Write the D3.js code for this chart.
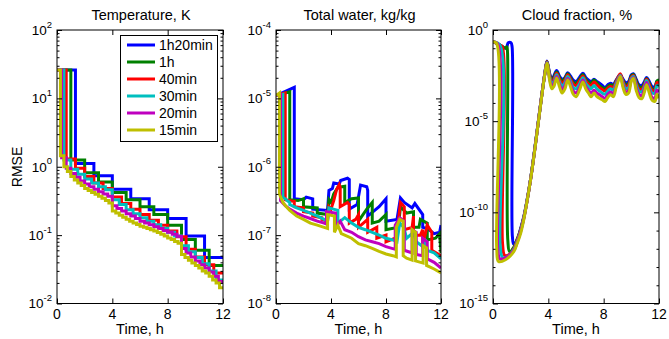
<!DOCTYPE html>
<html>
<head>
<meta charset="utf-8">
<script src="https://cdn.jsdelivr.net/npm/d3@7"></script>
<style>
  body { margin: 0; background: #fff; }
  svg { font-family: "Liberation Sans", Arial, sans-serif; }
</style>
</head>
<body>
<svg id="chart" width="669" height="339"></svg>
<script>
// series, legend
const seriesLabels = ['1h20min', '1h', '40min', '30min', '20min', '15min'];
const windowMinutes = [80, 60, 40, 30, 20, 15];
const seriesColors = ['#0000ff', '#008000', '#ff0000', '#00bfbf', '#bf00bf', '#bfbf00'];

const timeTicks = [0, 4, 8, 12];
const tempTicks = [1e-2, 1e-1, 1e0, 1e1, 1e2];
const waterTicks = [1e-8, 1e-7, 1e-6, 1e-5, 1e-4];
const cloudTicks = [1e-15, 1e-10, 1e-5, 1e0];

// Temperature RMSE: one level per assimilation window
const tempBlue = [26, 1.12, 0.74, 0.47, 0.34, 0.235, 0.175, 0.097, 0.047];
const tempGreen = [26, 1.25, 0.82, 0.6, 0.42, 0.33, 0.26, 0.2, 0.14, 0.086, 0.06, 0.036];
const tempRed = [26, 1.3, 0.95, 0.72, 0.58, 0.48, 0.36, 0.29, 0.24, 0.2, 0.165, 0.14, 0.115, 0.095, 0.062, 0.048, 0.037, 0.028];
const tempCyan = [26, 1.25, 0.92, 0.78, 0.66, 0.58, 0.51, 0.46, 0.33, 0.28, 0.235, 0.205, 0.18, 0.16, 0.142, 0.126, 0.11, 0.097, 0.07, 0.057, 0.047, 0.038, 0.03, 0.022];
const tempMagenta = [26, 1.35, 0.95, 0.8, 0.7, 0.62, 0.56, 0.51, 0.47, 0.43, 0.4, 0.37, 0.27, 0.245, 0.225, 0.205, 0.19, 0.175,
  0.16, 0.15, 0.142, 0.133, 0.125, 0.117, 0.11, 0.103, 0.096, 0.064, 0.055, 0.048, 0.042, 0.037, 0.033, 0.029, 0.025, 0.021];
const tempYellow = [26, 1.45, 1.0, 0.85, 0.72, 0.64, 0.58, 0.53, 0.48, 0.45, 0.42, 0.395, 0.37, 0.345, 0.32, 0.295,
  0.225, 0.21, 0.195, 0.182, 0.17, 0.16, 0.151, 0.143, 0.135, 0.13, 0.125, 0.12, 0.115, 0.109, 0.103, 0.097,
  0.091, 0.086, 0.081, 0.076, 0.052, 0.047, 0.043, 0.039, 0.036, 0.033, 0.03, 0.028, 0.025, 0.022, 0.02, 0.017];

// Total water RMSE: [time h, value]
const waterBlue = [[0, 1.1e-5], [1.33, 1.45e-5], [1.33, 3.4e-7], [2.0, 3.3e-7], [2.2, 3.6e-7], [2.67, 3.4e-7], [2.67, 2.4e-7],
  [3.75, 2.3e-7], [3.85, 4.5e-7], [4.1, 4.8e-7], [4.2, 5.8e-7], [4.6, 5.6e-7], [4.7, 6.3e-7], [5.2, 6.8e-7], [5.33, 6.5e-7],
  [5.33, 2.4e-7], [5.9, 2.8e-7], [6.15, 5.4e-7], [6.6, 5.1e-7], [6.67, 4.5e-7], [6.67, 1.9e-7], [7.5, 2.6e-7], [8.0, 3.4e-7],
  [8.0, 1.6e-7], [8.8, 1.7e-7], [9.05, 3.5e-7], [9.33, 3.0e-7], [9.9, 2.5e-7], [10.1, 2.9e-7], [10.67, 2.0e-7],
  [10.67, 1.3e-7], [11.0, 1.25e-7], [11.5, 1.05e-7], [11.9, 1.1e-7], [12, 1.4e-7]];
const waterGreen = [[0, 1.1e-5], [1, 1.25e-5], [1, 3.3e-7], [1.6, 3.2e-7], [2, 3.4e-7], [2, 2.6e-7], [3, 2.5e-7], [3, 2.1e-7],
  [3.75, 2.0e-7], [3.85, 3.3e-7], [4, 3.0e-7], [4.2, 4.0e-7], [4.5, 5.0e-7], [5, 5.2e-7], [5, 3.0e-7], [5.5, 3.4e-7],
  [6, 3.5e-7], [6, 1.6e-7], [6.6, 2.4e-7], [7, 3.0e-7], [7, 1.5e-7], [7.5, 1.6e-7], [8, 2.0e-7], [8, 1.2e-7], [8.9, 1.3e-7],
  [9.05, 2.6e-7], [9.5, 2.1e-7], [10, 2.2e-7], [10, 1.3e-7], [10.4, 1.3e-7], [10.5, 1.7e-7], [11, 1.5e-7], [11, 8.5e-8],
  [11.6, 9e-8], [11.9, 1.05e-7], [12, 5.5e-8]];
const waterRed = [[0, 1.1e-5], [0.67, 1.2e-5], [0.67, 3.3e-7], [1.33, 3.1e-7], [1.33, 2.6e-7], [2, 2.5e-7], [2, 2.2e-7],
  [2.67, 2.1e-7], [2.67, 1.9e-7], [3.33, 1.8e-7], [3.33, 1.7e-7], [3.75, 1.6e-7], [3.85, 2.6e-7], [4, 2.4e-7], [4.2, 3.2e-7],
  [4.4, 4.6e-7], [4.6, 5.5e-7], [4.67, 5.0e-7], [4.67, 2.6e-7], [5.2, 3.0e-7], [5.33, 2.8e-7], [5.33, 1.5e-7], [5.8, 1.7e-7],
  [6, 2.0e-7], [6, 1.3e-7], [6.67, 1.7e-7], [6.67, 1.1e-7], [7.33, 1.3e-7], [7.33, 9e-8], [8, 1.0e-7], [8, 8e-8],
  [8.67, 9e-8], [8.9, 1.6e-7], [9.05, 3.0e-7], [9.33, 2.6e-7], [9.33, 1.2e-7], [9.9, 1.3e-7], [10, 1.9e-7], [10, 1.0e-7],
  [10.5, 1.0e-7], [10.67, 1.2e-7], [10.67, 7e-8], [11, 1.4e-7], [11.33, 1.1e-7], [11.33, 6e-8], [12, 5e-8]];
const waterCyan = [[0, 1.1e-5], [0.5, 1.15e-5], [0.5, 3.6e-7], [1, 3.0e-7], [1, 2.8e-7], [1.5, 2.5e-7], [2, 2.3e-7],
  [2.5, 2.1e-7], [3, 1.9e-7], [3.5, 1.7e-7], [3.75, 1.6e-7], [3.85, 2.5e-7], [4.5, 2.3e-7], [4.5, 1.5e-7], [5, 1.8e-7],
  [5.5, 1.5e-7], [6, 1.3e-7], [6.5, 1.2e-7], [7, 1.1e-7], [7.5, 1.0e-7], [8, 9e-8], [8.5, 8.5e-8], [8.8, 8e-8],
  [9.0, 1.5e-7], [9.3, 1.3e-7], [9.5, 9e-8], [10, 1.1e-7], [10.2, 8e-8], [10.6, 7e-8], [10.9, 8e-8], [11, 6e-8],
  [11.5, 5.5e-8], [12, 4.5e-8]];
const waterMagenta = [[0, 1.1e-5], [0.33, 1.15e-5], [0.33, 3.2e-7], [0.67, 2.7e-7], [1, 2.4e-7], [1.5, 2.1e-7], [2, 1.9e-7],
  [2.5, 1.75e-7], [3, 1.6e-7], [3.5, 1.5e-7], [3.67, 1.45e-7], [3.67, 2.2e-7], [4.33, 2.1e-7], [4.33, 1.3e-7], [4.67, 1.6e-7],
  [5, 1.2e-7], [5.5, 1.1e-7], [6, 9.5e-8], [6.5, 8.5e-8], [7, 8e-8], [7.5, 7.5e-8], [8, 6.8e-8], [8.67, 6.2e-8],
  [8.67, 1.4e-7], [9.0, 1.8e-7], [9.33, 1.6e-7], [9.33, 6e-8], [9.9, 5.5e-8], [9.9, 1.2e-7], [10.2, 1.1e-7], [10.2, 5.2e-8],
  [10.67, 5e-8], [10.67, 9e-8], [11, 8e-8], [11, 4.5e-8], [11.5, 4e-8], [12, 3.3e-8]];
const waterYellow = [[0, 1.1e-5], [0.25, 1.2e-5], [0.25, 4.0e-7], [0.5, 3.0e-7], [0.75, 2.6e-7], [1, 2.3e-7], [1.5, 1.9e-7],
  [2, 1.7e-7], [2.5, 1.5e-7], [3, 1.4e-7], [3.5, 1.3e-7], [3.75, 1.25e-7], [3.75, 2.0e-7], [4.25, 1.9e-7], [4.25, 1.1e-7],
  [4.5, 1.4e-7], [4.75, 1.05e-7], [5, 1.0e-7], [5.5, 9e-8], [6, 7.5e-8], [6.5, 7e-8], [7, 6.4e-8], [7.5, 5.8e-8],
  [8, 5.3e-8], [8.5, 5e-8], [8.75, 4.8e-8], [8.75, 1.3e-7], [9, 1.7e-7], [9.25, 1.6e-7], [9.25, 5e-8], [9.5, 4.6e-8],
  [9.9, 4.3e-8], [9.9, 1.2e-7], [10.15, 1.1e-7], [10.15, 4.2e-8], [10.7, 3.9e-8], [10.7, 7e-8], [10.95, 6.5e-8],
  [10.95, 3.6e-8], [11.5, 3.2e-8], [12, 2.8e-8]];

// Cloud fraction RMSE, first 4 hours: [time h, value]
const cloudBlue = [[0, 0.23], [0.5, 0.15], [0.95, 0.1], [1.1, 0.2], [1.3, 0.2], [1.38, 0.12], [1.4, 5e-12], [1.5, 1.8e-12],
  [1.75, 3e-12], [2.0, 1.3e-11], [2.25, 7e-11], [2.5, 7e-10], [2.75, 1e-8], [3.0, 2.5e-7], [3.25, 7e-6], [3.5, 2e-4],
  [3.75, 4.5e-3], [3.9, 0.02]];
const cloudGreen = [[0, 0.23], [0.5, 0.15], [0.9, 0.1], [1.0, 0.12], [1.05, 0.06], [1.07, 3e-12], [1.2, 7e-13], [1.5, 1.2e-12],
  [1.75, 3.5e-12], [2.0, 1.2e-11], [2.25, 6.5e-11], [2.5, 6.5e-10], [2.75, 1e-8], [3.0, 2.3e-7], [3.25, 6.6e-6], [3.5, 1.9e-4],
  [3.75, 4.3e-3], [3.9, 0.019]];
const cloudRed = [[0, 0.23], [0.5, 0.15], [0.67, 0.12], [0.69, 2e-12], [0.85, 4.3e-13], [1.2, 5e-13], [1.5, 1e-12],
  [1.75, 3e-12], [2.0, 1.1e-11], [2.25, 6e-11], [2.5, 6.3e-10], [2.75, 9.5e-9], [3.0, 2.2e-7], [3.25, 6.4e-6], [3.5, 1.9e-4],
  [3.75, 4.2e-3], [3.9, 0.018]];
const cloudCyan = [[0, 0.23], [0.5, 0.15], [0.52, 1.5e-12], [0.7, 3.3e-13], [1.1, 4e-13], [1.5, 9e-13], [1.75, 2.6e-12],
  [2.0, 1e-11], [2.25, 5.8e-11], [2.5, 6.2e-10], [2.75, 9.3e-9], [3.0, 2.2e-7], [3.25, 6.3e-6], [3.5, 1.8e-4],
  [3.75, 4.1e-3], [3.9, 0.017]];
const cloudMagenta = [[0, 0.23], [0.33, 0.18], [0.35, 1e-12], [0.5, 2.8e-13], [1.0, 3.5e-13], [1.5, 8e-13], [1.75, 2.3e-12],
  [2.0, 9e-12], [2.25, 5.5e-11], [2.5, 6e-10], [2.75, 9e-9], [3.0, 2.1e-7], [3.25, 6.2e-6], [3.5, 1.8e-4],
  [3.75, 4e-3], [3.9, 0.016]];
const cloudYellow = [[0, 0.23], [0.25, 0.19], [0.27, 1e-12], [0.4, 2e-13], [0.9, 2.5e-13], [1.5, 7e-13], [1.75, 2e-12],
  [2.0, 7e-12], [2.25, 5e-11], [2.5, 6e-10], [2.75, 9e-9], [3.0, 2e-7], [3.25, 6e-6], [3.5, 1.7e-4],
  [3.75, 3.8e-3], [3.9, 0.015]];

// Cloud fraction RMSE after 4 h, on a shared time list
const cloudLateTime = [4.1, 4.25, 4.4, 4.6, 4.8, 5.0, 5.2, 5.4, 5.6, 5.8, 6.0, 6.25, 6.5, 6.7, 6.9, 7.1, 7.3, 7.5, 7.7, 7.9,
  8.1, 8.3, 8.5, 8.7, 8.9, 9.2, 9.4, 9.6, 9.8, 10.0, 10.15, 10.35, 10.55, 10.75, 10.95, 11.1, 11.3, 11.5, 11.7, 11.85, 12];
const cloudLateBlue = [4e-3, 2e-3, 3e-3, 6e-3, 3e-3, 2e-3, 2.5e-3, 4.5e-3, 3e-3, 1.8e-3, 1.5e-3, 2.5e-3, 4.3e-3, 2.5e-3,
  1.8e-3, 1.5e-3, 2e-3, 1.5e-3, 1.2e-3, 9e-4, 7e-4, 1e-3, 1.2e-3, 1e-3, 1.8e-3, 3.5e-3, 2e-3, 1.3e-3, 1.5e-3, 3.5e-3,
  4e-3, 2e-3, 1e-3, 9e-4, 1.5e-3, 2.5e-3, 1.5e-3, 8e-4, 8e-4, 1.5e-3, 1.6e-3];
const cloudLateGreen = [3.5e-3, 1.7e-3, 2.5e-3, 5e-3, 2.5e-3, 1.6e-3, 2.2e-3, 4e-3, 2.4e-3, 1.4e-3, 1.2e-3, 2e-3, 3.6e-3, 2e-3,
  1.4e-3, 1.2e-3, 1.8e-3, 1.3e-3, 9e-4, 7e-4, 6e-4, 8e-4, 1e-3, 9e-4, 1.6e-3, 3.3e-3, 1.7e-3, 1e-3, 1.2e-3, 3e-3,
  3.6e-3, 1.6e-3, 8e-4, 7e-4, 1.2e-3, 2.2e-3, 1.2e-3, 6e-4, 6e-4, 1.6e-3, 1.8e-3];
const cloudLateRed = [3e-3, 1.4e-3, 2e-3, 4.2e-3, 2e-3, 1.2e-3, 1.8e-3, 3.5e-3, 2e-3, 1.1e-3, 9e-4, 1.6e-3, 3e-3, 1.6e-3,
  1.1e-3, 9e-4, 1.4e-3, 1e-3, 7e-4, 5.5e-4, 4.5e-4, 6.5e-4, 8e-4, 7e-4, 1.5e-3, 4e-3, 1.5e-3, 8e-4, 1e-3, 2.6e-3,
  3.2e-3, 1.3e-3, 6e-4, 5.5e-4, 1e-3, 2e-3, 1e-3, 5e-4, 5e-4, 1.3e-3, 1.2e-3];
const cloudLateCyan = [2.5e-3, 1.1e-3, 1.5e-3, 3.5e-3, 1.5e-3, 8e-4, 1.3e-3, 2.8e-3, 1.5e-3, 7e-4, 6e-4, 1.1e-3, 2.4e-3, 1.2e-3,
  8e-4, 6e-4, 9e-4, 6e-4, 4.5e-4, 3.5e-4, 3e-4, 4.5e-4, 6e-4, 5e-4, 1.2e-3, 3.3e-3, 1.2e-3, 6e-4, 7e-4, 2.2e-3,
  2.8e-3, 1e-3, 4.5e-4, 4e-4, 8e-4, 1.7e-3, 7e-4, 3.5e-4, 3.5e-4, 9e-4, 8e-4];
const cloudLateMagenta = [2e-3, 8e-4, 1.1e-3, 2.8e-3, 1.1e-3, 5e-4, 9e-4, 2.2e-3, 1.1e-3, 4.5e-4, 3.5e-4, 7e-4, 1.8e-3, 8e-4,
  5e-4, 3.5e-4, 5e-4, 3.5e-4, 2.8e-4, 2.2e-4, 1.8e-4, 3e-4, 4e-4, 3.2e-4, 9e-4, 3e-3, 9e-4, 4e-4, 5e-4, 1.8e-3,
  2.4e-3, 7e-4, 3e-4, 2.5e-4, 6e-4, 1.3e-3, 5e-4, 2e-4, 1.8e-4, 5e-4, 4e-4];
const cloudLateYellow = [1.6e-3, 6e-4, 8e-4, 2.3e-3, 8e-4, 3.5e-4, 6e-4, 1.8e-3, 8e-4, 3e-4, 2.2e-4, 5e-4, 1.4e-3, 6e-4,
  3.5e-4, 2.2e-4, 3.5e-4, 2.3e-4, 1.8e-4, 1.5e-4, 1.2e-4, 2e-4, 2.8e-4, 2.2e-4, 7e-4, 2.8e-3, 7e-4, 3e-4, 3.5e-4, 1.6e-3,
  2.2e-3, 5e-4, 2e-4, 1.7e-4, 4e-4, 1e-3, 3.5e-4, 1.4e-4, 1.2e-4, 3e-4, 1.8e-4];

const cloudEarly = [cloudBlue, cloudGreen, cloudRed, cloudCyan, cloudMagenta, cloudYellow];
const cloudLate = [cloudLateBlue, cloudLateGreen, cloudLateRed, cloudLateCyan, cloudLateMagenta, cloudLateYellow];
const cloudSeries = cloudEarly.map((early, i) => early.concat(cloudLateTime.map((t, k) => [t, cloudLate[i][k]])));

const svg = d3.select('#chart');
const plotTop = 30, plotBottom = 303.5;

const panels = [
  { title: 'Temperature, K', x0: 57, x1: 223, domain: [1e-2, 1e2], ticks: tempTicks, step: true,
    series: [tempBlue, tempGreen, tempRed, tempCyan, tempMagenta, tempYellow] },
  { title: 'Total water, kg/kg', x0: 276, x1: 441, domain: [1e-8, 1e-4], ticks: waterTicks,
    series: [waterBlue, waterGreen, waterRed, waterCyan, waterMagenta, waterYellow] },
  { title: 'Cloud fraction, %', x0: 493, x1: 659, domain: [1e-15, 1e0], ticks: cloudTicks, smooth: true,
    series: cloudSeries }
];

function minorTicks(domain, majors) {
  const lo = Math.round(Math.log10(domain[0])), hi = Math.round(Math.log10(domain[1]));
  const out = [];
  if (hi - lo > 6) {
    for (let e = lo; e <= hi; e++) if (!majors.includes(Math.pow(10, e))) out.push(Math.pow(10, e));
  } else {
    for (let e = lo; e < hi; e++) for (let m = 2; m <= 9; m++) out.push(m * Math.pow(10, e));
  }
  return out;
}

panels.forEach((p, pi) => {
  const x = d3.scaleLinear().domain([0, 12]).range([p.x0, p.x1]);
  const y = d3.scaleLog().domain(p.domain).range([plotBottom, plotTop]);
  const g = svg.append('g');

  const clipId = 'clip' + pi;
  svg.append('clipPath').attr('id', clipId)
    .append('rect').attr('x', p.x0).attr('y', plotTop).attr('width', p.x1 - p.x0).attr('height', plotBottom - plotTop);

  // lines
  const line = d3.line().x(d => x(d[0])).y(d => y(d[1]));
  if (p.step) line.curve(d3.curveStepAfter);
  if (p.smooth) line.curve(d3.curveCatmullRom.alpha(0.5));
  const lines = g.append('g').attr('clip-path', `url(#${clipId})`);
  p.series.forEach((s, si) => {
    let pts = s;
    if (p.step) {
      const w = windowMinutes[si] / 60;
      pts = s.map((v, k) => [k * w, v]);
      pts.push([12, s[s.length - 1]]);
    }
    lines.append('path')
      .attr('d', line(pts))
      .attr('fill', 'none')
      .attr('stroke', seriesColors[si])
      .attr('stroke-width', 3)
      .attr('stroke-linejoin', 'miter');
  });

  // axes, ticks inward on all four sides
  const minors = minorTicks(p.domain, p.ticks);
  const axisStyle = sel => { sel.select('.domain').remove(); sel.selectAll('line').attr('stroke', '#000'); };
  g.append('g').attr('transform', `translate(${p.x0},0)`)
    .call(d3.axisLeft(y).tickValues(p.ticks).tickSizeInner(-5).tickSizeOuter(0).tickFormat(() => ''))
    .call(axisStyle);
  g.append('g').attr('transform', `translate(${p.x0},0)`)
    .call(d3.axisLeft(y).tickValues(minors).tickSizeInner(-2.5).tickSizeOuter(0).tickFormat(() => ''))
    .call(axisStyle);
  g.append('g').attr('transform', `translate(${p.x1},0)`)
    .call(d3.axisRight(y).tickValues(p.ticks).tickSizeInner(-5).tickSizeOuter(0).tickFormat(() => ''))
    .call(axisStyle);
  g.append('g').attr('transform', `translate(${p.x1},0)`)
    .call(d3.axisRight(y).tickValues(minors).tickSizeInner(-2.5).tickSizeOuter(0).tickFormat(() => ''))
    .call(axisStyle);
  g.append('g').attr('transform', `translate(0,${plotBottom})`)
    .call(d3.axisBottom(x).tickValues(timeTicks).tickSizeInner(-5).tickSizeOuter(0).tickFormat(() => ''))
    .call(axisStyle);
  g.append('g').attr('transform', `translate(0,${plotTop})`)
    .call(d3.axisTop(x).tickValues(timeTicks).tickSizeInner(-5).tickSizeOuter(0).tickFormat(() => ''))
    .call(axisStyle);

  g.append('rect')
    .attr('x', p.x0).attr('y', plotTop)
    .attr('width', p.x1 - p.x0).attr('height', plotBottom - plotTop)
    .attr('fill', 'none').attr('stroke', '#000').attr('stroke-width', 1);

  // y tick labels 10^n
  p.ticks.forEach(v => {
    const t = g.append('text')
      .attr('x', p.x0 - 5).attr('y', y(v))
      .attr('text-anchor', 'end').attr('font-size', 13.5).attr('fill', '#000');
    t.append('tspan').attr('dy', '0.36em').text('10');
    t.append('tspan').attr('dy', '-0.75em').attr('font-size', 9.5).text(Math.round(Math.log10(v)));
  });

  // x tick labels
  timeTicks.forEach(v => {
    g.append('text').attr('x', x(v)).attr('y', 319)
      .attr('text-anchor', 'middle').attr('font-size', 14).text(v);
  });

  g.append('text').attr('x', (p.x0 + p.x1) / 2).attr('y', 334)
    .attr('text-anchor', 'middle').attr('font-size', 14.5).text('Time, h');
  g.append('text').attr('x', (p.x0 + p.x1) / 2 + 1).attr('y', 19.5)
    .attr('text-anchor', 'middle').attr('font-size', 14.5).text(p.title);
});

svg.append('text')
  .attr('transform', 'translate(21.5,167) rotate(-90)')
  .attr('text-anchor', 'middle').attr('font-size', 14).text('RMSE');

// legend
const lg = svg.append('g');
lg.append('rect').attr('x', 120.5).attr('y', 35.5).attr('width', 97).attr('height', 106)
  .attr('fill', '#fff').attr('stroke', '#000');
seriesLabels.forEach((lab, i) => {
  const yy = 45 + i * 17;
  lg.append('line').attr('x1', 127).attr('x2', 155).attr('y1', yy).attr('y2', yy)
    .attr('stroke', seriesColors[i]).attr('stroke-width', 3);
  lg.append('text').attr('x', 159).attr('y', yy).attr('dy', '0.36em')
    .attr('font-size', 14).text(lab);
});
</script>
</body>
</html>
